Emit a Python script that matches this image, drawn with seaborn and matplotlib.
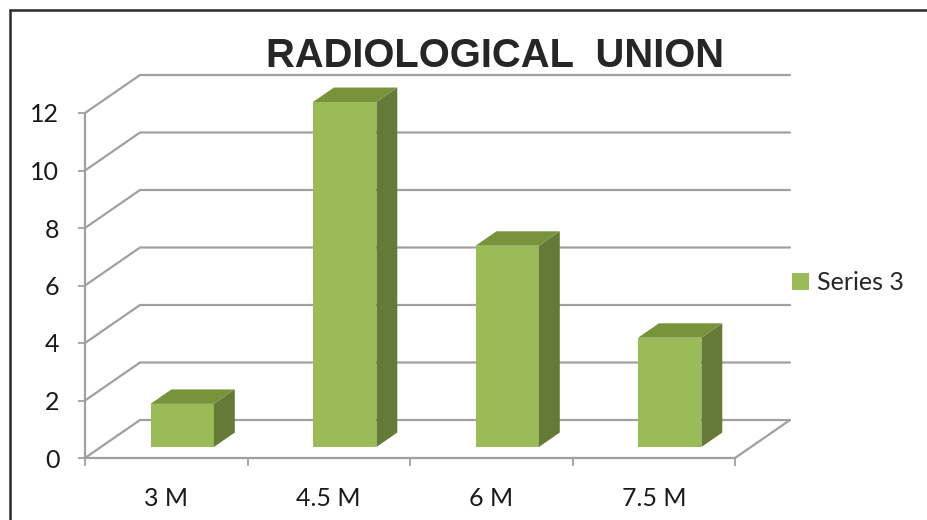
import matplotlib
matplotlib.use("Agg")
import matplotlib.pyplot as plt
import seaborn as sns
import pandas as pd
from matplotlib.patches import Polygon, Patch
from matplotlib.lines import Line2D
from matplotlib.transforms import IdentityTransform, offset_copy

# datos del grafico
categorias = ["3 M", "4.5 M", "6 M", "7.5 M"]
valores = [1.5, 12, 7, 3.8]
serie = "Series 3"
titulo = "RADIOLOGICAL  UNION"
ticks_y = [0, 2, 4, 6, 8, 10, 12]

# colores estilo Excel
c_frente = "#9BBB59"
c_arriba = "#77933C"
c_lado = "#647A36"
c_grid = "#A0A0A0"

W, H = 927, 520
sns.set_style("white")
plt.rcParams["font.family"] = ["Lato", "DejaVu Sans"]

fig = plt.figure(figsize=(W / 100, H / 100), dpi=100)
# plano frontal del grafico (pixeles 85..735 x 113..458)
ax = fig.add_axes([85 / W, (H - 458) / H, 650 / W, 345 / H])

df = pd.DataFrame({"cat": categorias, "val": valores})
sns.barplot(data=df, x="cat", y="val", color=c_frente, saturation=1,
            width=0.39, ax=ax, zorder=3, linewidth=0)

ax.set_autoscale_on(False)
ax.set_xlim(-0.5, len(categorias) - 0.5)
ax.set_ylim(0, 12)
ax.set_xlabel("")
ax.set_ylabel("")

# profundidad de la pared (pixeles)
WX, WY = 55, 38
# posicion de la barra dentro de la profundidad
OX, OY = 0.29 * WX, 0.29 * WY
BX, BY = 0.38 * WX, 0.38 * WY

ident = IdentityTransform()


def px(x, y):
    return ax.transData.transform((x, y))


# lineas de la cuadricula en perspectiva
x0, x1 = ax.get_xlim()
for v in ticks_y:
    a = px(x0, v)
    b = a + (WX, WY)
    c = px(x1, v) + (WX, WY)
    ax.add_line(Line2D([a[0], b[0], c[0]], [a[1], b[1], c[1]], color=c_grid,
                       lw=1.6, transform=ident, clip_on=False, zorder=1))
fr = px(x1, 0)
ax.add_line(Line2D([fr[0], fr[0] + WX], [fr[1], fr[1] + WY], color=c_grid,
                   lw=1.6, transform=ident, clip_on=False, zorder=1))

# caras 3D de las barras
desplaz = offset_copy(ax.transData, fig=fig, x=OX, y=OY, units="dots")
for p in list(ax.patches):
    bx0, bw, bh = p.get_x(), p.get_width(), p.get_height()
    p.set_transform(desplaz)
    p.set_clip_on(False)
    bl = px(bx0, 0) + (OX, OY)
    br = px(bx0 + bw, 0) + (OX, OY)
    tl = px(bx0, bh) + (OX, OY)
    tr = px(bx0 + bw, bh) + (OX, OY)
    lado = Polygon([br, tr, tr + (BX, BY), br + (BX, BY)], closed=True,
                   facecolor=c_lado, edgecolor="none", transform=ident,
                   clip_on=False, zorder=3)
    arriba = Polygon([tl, tr, tr + (BX, BY), tl + (BX, BY)], closed=True,
                     facecolor=c_arriba, edgecolor="none", transform=ident,
                     clip_on=False, zorder=3)
    ax.add_patch(lado)
    ax.add_patch(arriba)

# ejes frontales
for s in ["top", "right"]:
    ax.spines[s].set_visible(False)
for s in ["left", "bottom"]:
    ax.spines[s].set_color(c_grid)
    ax.spines[s].set_linewidth(1.6)
    ax.spines[s].set_zorder(2)

ax.set_yticks(ticks_y)
ax.tick_params(axis="y", direction="out", length=5, width=1.3, color=c_grid,
               pad=13.5, labelsize=18, labelcolor="#1a1a1a", left=True)
ax.set_xticks(range(len(categorias)))
ax.set_xticklabels(categorias)
ax.set_xticks([i - 0.5 for i in range(len(categorias) + 1)], minor=True)
ax.tick_params(axis="x", which="major", length=0, pad=21, labelsize=18,
               labelcolor="#1a1a1a")
ax.tick_params(axis="x", which="minor", direction="out", length=6, width=1.3,
               color=c_grid, bottom=True)
ax.grid(False)

# titulo
fig.text(495 / W, (H - 67) / H, titulo, ha="center", va="baseline",
         fontsize=28.8, fontweight="bold", family="Liberation Sans")

# leyenda
fig.legend(handles=[Patch(facecolor=c_frente, edgecolor="none", label=serie)],
           loc="center left", bbox_to_anchor=(792 / W, (H - 283) / H),
           frameon=False, fontsize=18, handlelength=0.66, handleheight=0.66,
           handletextpad=0.35, borderpad=0, borderaxespad=0)

# borde del grafico
fig.add_artist(Line2D([10, 10], [H - 10, 0], color="#2b2b2b", lw=1.8,
                      transform=ident))
fig.add_artist(Line2D([10, W], [H - 10, H - 10], color="#2b2b2b", lw=1.8,
                      transform=ident))

fig.savefig("out.png", dpi=100)
